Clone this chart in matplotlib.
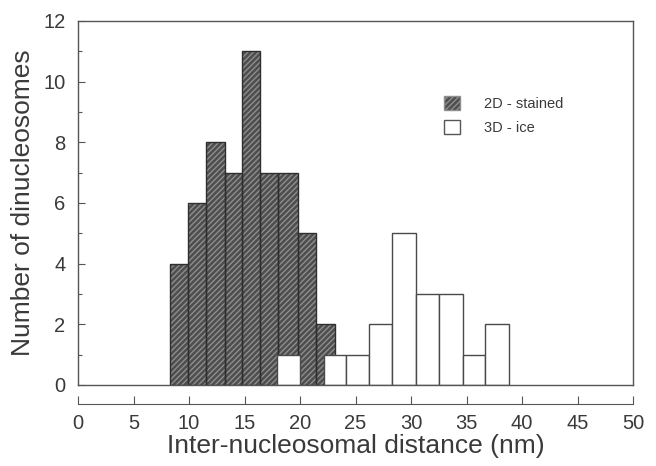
import matplotlib.pyplot as plt
from matplotlib.patches import Patch

plt.rcParams["font.family"] = ["Liberation Sans", "DejaVu Sans"]
plt.rcParams["hatch.linewidth"] = 1.0

# 2D - stained (bin edges in nm, counts)
stained_edges = [8.24, 9.92, 11.55, 13.23, 14.80, 16.42, 18.05, 19.77, 21.43, 23.14]
stained_counts = [4, 6, 8, 7, 11, 7, 7, 5, 2]

# 3D - ice
ice_edges = [17.96, 19.98, 22.18, 24.16, 26.24, 28.32, 30.42, 32.50, 34.64, 36.70, 38.83]
ice_counts = [1, 0, 1, 1, 2, 5, 3, 3, 1, 2]

x_ticks = [0, 5, 10, 15, 20, 25, 30, 35, 40, 45, 50]
y_ticks = [0, 2, 4, 6, 8, 10, 12]

text_col = "#3a3a3a"
dark_fill = "#4e4e4e"
hatch_col = "#8e8e8e"

fig = plt.figure(figsize=(6.56, 4.66), dpi=100)
ax = fig.add_axes([0.119, 0.174, 0.846, 0.781])


def widths(edges):
    return [b - a for a, b in zip(edges[:-1], edges[1:])]


# dark bars: solid fill, then light diagonal hatch, then outline
ax.bar(stained_edges[:-1], stained_counts, width=widths(stained_edges), align="edge",
       color=dark_fill, edgecolor="none", zorder=2)
ax.bar(stained_edges[:-1], stained_counts, width=widths(stained_edges), align="edge",
       color="none", edgecolor=hatch_col, hatch="//////", linewidth=0, zorder=2.1)
ax.bar(stained_edges[:-1], stained_counts, width=widths(stained_edges), align="edge",
       color="none", edgecolor="#2e2e2e", linewidth=1.0, zorder=2.2)

# white bars on top
ice_x = [e for e, c in zip(ice_edges[:-1], ice_counts) if c > 0]
ice_w = [w for w, c in zip(widths(ice_edges), ice_counts) if c > 0]
ice_h = [c for c in ice_counts if c > 0]
ax.bar(ice_x, ice_h, width=ice_w, align="edge", color="white",
       edgecolor="#4a4a4a", linewidth=1.0, zorder=3)

ax.set_xlim(0, 50)
ax.set_ylim(0, 12)

for s in ax.spines.values():
    s.set_color("#555555")
    s.set_linewidth(1.0)
    s.set_zorder(4)

ax.set_yticks(y_ticks)
ax.set_yticks(range(0, 13), minor=True)
ax.tick_params(axis="y", direction="in", length=5, width=0.8, colors="#555555",
               labelcolor=text_col, labelsize=14.5, pad=9, right=False)
ax.tick_params(axis="y", which="minor", direction="in", length=3, width=0.8,
               colors="#555555", right=False)

# detached x axis below the plot box
ax_x = ax.twiny()
ax_x.set_xlim(0, 50)
ax_x.xaxis.set_ticks_position("bottom")
ax_x.xaxis.set_label_position("bottom")
ax_x.spines["bottom"].set_position(("outward", 14))
for side in ["top", "left", "right"]:
    ax_x.spines[side].set_visible(False)
ax_x.spines["bottom"].set_color("#555555")
ax_x.set_xticks(x_ticks)
ax_x.tick_params(axis="x", direction="in", length=6, width=0.8, colors="#555555",
                 labelcolor=text_col, labelsize=14.5, pad=7)
ax.set_xticks([])
ax_x.set_xlabel("Inter-nucleosomal distance (nm)", fontsize=19, color=text_col, labelpad=1)
ax.set_ylabel("Number of dinucleosomes", fontsize=19, color=text_col, labelpad=6)

handles = [
    Patch(facecolor=dark_fill, edgecolor=hatch_col, hatch="//////", label="2D - stained"),
    Patch(facecolor="white", edgecolor="#555555", label="3D - ice"),
]
leg = ax.legend(handles=handles, loc="upper left", bbox_to_anchor=(0.635, 0.83),
                frameon=False, fontsize=10.5, handlelength=1.1, handleheight=1.1,
                handletextpad=1.7, labelspacing=0.6)
for t in leg.get_texts():
    t.set_color(text_col)

fig.savefig("out.png", dpi=100)
